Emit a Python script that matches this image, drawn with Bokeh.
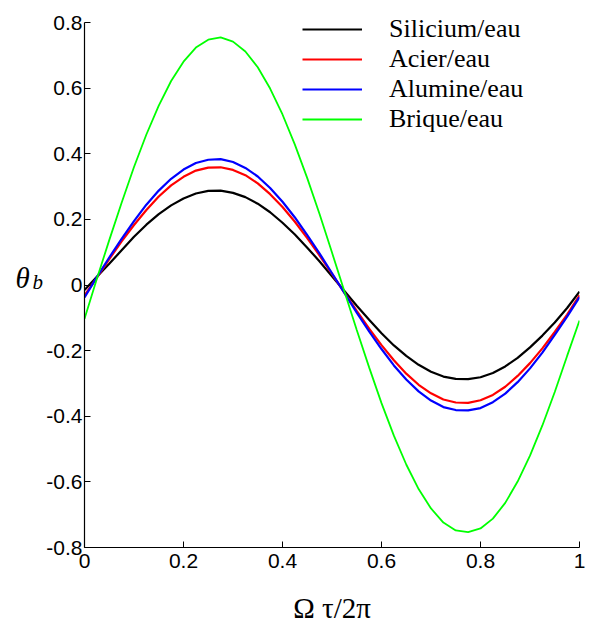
from bokeh.plotting import figure
from bokeh.models import Range1d, FixedTicker, Legend, LegendItem
from bokeh.layouts import row
from bokeh.core.properties import value
from bokeh.embed import file_html
from bokeh.resources import INLINE

# ---- data ----
x_vals = [0.0, 0.025, 0.05, 0.075, 0.1, 0.125, 0.15, 0.175, 0.2, 0.225, 0.25,
          0.275, 0.3, 0.325, 0.35, 0.375, 0.4, 0.425, 0.45, 0.475, 0.5,
          0.525, 0.55, 0.575, 0.6, 0.625, 0.65, 0.675, 0.7, 0.725, 0.75,
          0.775, 0.8, 0.825, 0.85, 0.875, 0.9, 0.925, 0.95, 0.975, 1.0]

silicium = [-0.015, 0.025, 0.065, 0.106, 0.147, 0.184, 0.216, 0.243, 0.264, 0.279, 0.287,
            0.288, 0.281, 0.268, 0.248, 0.222, 0.190, 0.154, 0.114, 0.072, 0.027,
            -0.018, -0.063, -0.106, -0.147, -0.184, -0.216, -0.243, -0.264, -0.279, -0.286,
            -0.287, -0.281, -0.268, -0.248, -0.222, -0.190, -0.154, -0.114, -0.070, -0.020]

acier = [-0.032, 0.023, 0.079, 0.133, 0.183, 0.229, 0.270, 0.304, 0.330, 0.349, 0.358,
         0.359, 0.351, 0.335, 0.310, 0.277, 0.238, 0.193, 0.143, 0.090, 0.034,
         -0.023, -0.079, -0.133, -0.183, -0.229, -0.270, -0.304, -0.330, -0.349, -0.358,
         -0.359, -0.351, -0.335, -0.310, -0.277, -0.238, -0.193, -0.143, -0.090, -0.031]

alumine = [-0.038, 0.024, 0.084, 0.141, 0.195, 0.245, 0.288, 0.324, 0.352, 0.372, 0.382,
           0.384, 0.375, 0.357, 0.331, 0.296, 0.254, 0.206, 0.152, 0.096, 0.036,
           -0.024, -0.084, -0.141, -0.195, -0.245, -0.288, -0.324, -0.352, -0.372, -0.381,
           -0.382, -0.375, -0.357, -0.331, -0.296, -0.254, -0.206, -0.152, -0.096, -0.037]

brique = [-0.103, 0.019, 0.137, 0.251, 0.360, 0.459, 0.547, 0.622, 0.681, 0.724, 0.748,
          0.755, 0.742, 0.712, 0.664, 0.599, 0.520, 0.428, 0.326, 0.216, 0.099,
          -0.019, -0.137, -0.251, -0.360, -0.459, -0.547, -0.622, -0.681, -0.724, -0.748,
          -0.753, -0.742, -0.712, -0.664, -0.599, -0.520, -0.428, -0.326, -0.216, -0.108]

series_names = ["Silicium/eau", "Acier/eau", "Alumine/eau", "Brique/eau"]
series_colors = ["#000000", "#ff0000", "#0000ff", "#00ff00"]

x_ticks = [0, 0.2, 0.4, 0.6, 0.8, 1]
x_tick_labels = ["0", "0.2", "0.4", "0.6", "0.8", "1"]
y_ticks = [-0.8, -0.6, -0.4, -0.2, 0, 0.2, 0.4, 0.6, 0.8]
y_tick_labels = ["-0.8", "-0.6", "-0.4", "-0.2", "0", "0.2", "0.4", "0.6", "0.8"]

y_title_main = ["θ"]
y_title_sub = ["b"]

TICK_FONT = "Liberation Sans"
SERIF = "Liberation Serif"

H = 626
LW = 43  # width of the small panel holding the horizontal y-axis title

# ---- small panel with the horizontal y-axis title ----
lab = figure(width=LW, height=H, x_range=Range1d(0, LW), y_range=Range1d(H, 0),
             output_backend="svg", toolbar_location=None,
             min_border_left=0, min_border_right=0, min_border_top=0, min_border_bottom=0)
lab.axis.visible = False
lab.grid.visible = False
lab.outline_line_color = None
lab.border_fill_color = "white"
lab.background_fill_color = "white"
lab.text(x=[15], y=[312], text=y_title_main, text_font=value(SERIF), text_font_style="italic",
         text_font_size="29px", text_color="black", text_baseline="alphabetic", text_align="left")
lab.text(x=[32], y=[317], text=y_title_sub, text_font=value(SERIF), text_font_style="italic",
         text_font_size="21px", text_color="black", text_baseline="alphabetic", text_align="left")

# ---- main plot ----
p = figure(width=589 - LW, height=H,
           x_range=Range1d(0, 1), y_range=Range1d(-0.8, 0.84),
           output_backend="svg", toolbar_location=None,
           min_border_left=82 - LW, min_border_right=10,
           min_border_top=9, min_border_bottom=79)

p.xgrid.visible = False
p.ygrid.visible = False
p.outline_line_color = None
p.background_fill_color = "white"
p.border_fill_color = "white"

renderers = []
for vals, col, w in zip([silicium, acier, alumine, brique], series_colors, [2.2, 2.2, 2.2, 1.8]):
    r = p.line(x_vals, vals, line_color=col, line_width=w)
    renderers.append(r)

for ax, ticks, labels in [(p.xaxis[0], x_ticks, x_tick_labels), (p.yaxis[0], y_ticks, y_tick_labels)]:
    ax.ticker = FixedTicker(ticks=ticks)
    ax.major_label_overrides = {t: l for t, l in zip(ticks, labels)}
    ax.major_tick_in = 6
    ax.major_tick_out = 0
    ax.minor_tick_in = 0
    ax.minor_tick_out = 0
    ax.axis_line_color = "black"
    ax.axis_line_width = 1.2
    ax.major_tick_line_color = "black"
    ax.major_label_text_font = TICK_FONT
    ax.major_label_text_font_size = "21px"
    ax.major_label_text_color = "black"

p.yaxis.bounds = (-0.8, 0.8)
p.xaxis.major_label_standoff = 6
p.yaxis.major_label_standoff = 2
p.xaxis.axis_label = "Ω τ/2π"
p.xaxis.axis_label_text_font = SERIF
p.xaxis.axis_label_text_font_style = "normal"
p.xaxis.axis_label_text_font_size = "29px"
p.xaxis.axis_label_text_color = "black"
p.xaxis.axis_label_standoff = 21

legend = Legend(items=[LegendItem(label=n, renderers=[r]) for n, r in zip(series_names, renderers)],
                location=(218, 413))
legend.padding = 0
legend.margin = 0
legend.spacing = 0
legend.label_height = 30
legend.glyph_height = 30
legend.glyph_width = 60
legend.label_standoff = 27
legend.label_text_font = SERIF
legend.label_text_font_size = "26px"
legend.label_text_color = "black"
legend.border_line_alpha = 0
legend.background_fill_alpha = 0
p.add_layout(legend)

layout = row(lab, p, spacing=0)
open("out.html", "w").write(file_html(layout, INLINE))
